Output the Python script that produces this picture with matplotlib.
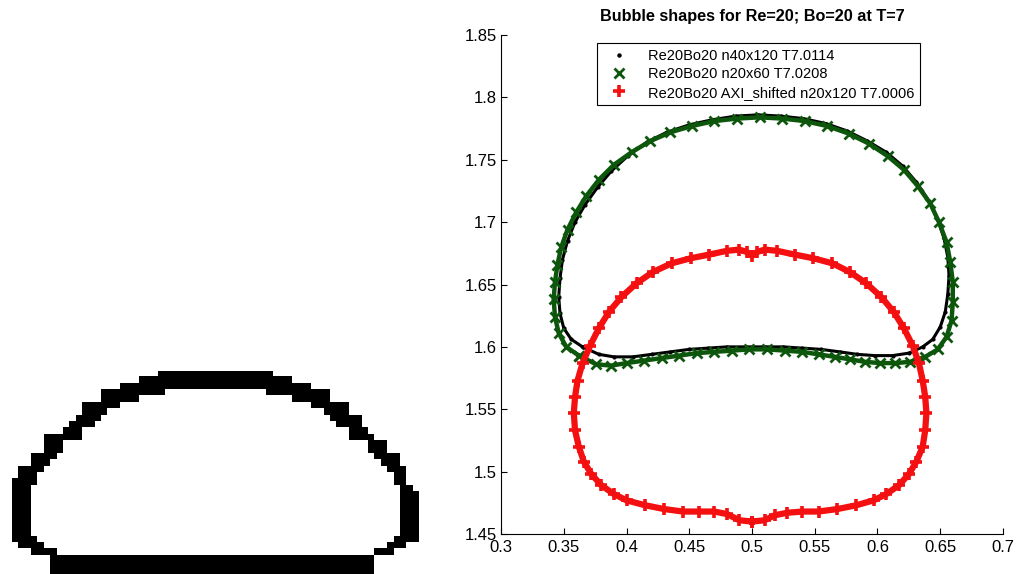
import numpy as np
import matplotlib.pyplot as plt

plt.rcParams['font.family'] = ['Liberation Sans', 'DejaVu Sans']

# left picture: pixelated bubble, one entry per pixel row (top to bottom)
# filled cells are [outer_left, inner_left) and [inner_right, outer_right)
outer_left = [23, 20, 17, 14, 14, 11, 11, 10, 9, 8, 5, 5, 5, 3, 3, 1,
              1, 0, 0, 0, 0, 0, 0, 0, 0, 0, 0, 1, 3, 6, 6, 6]
inner_left = [41, 44, 47, 24, 20, 17, 15, 14, 13, 11, 11, 8, 8, 7, 6, 5,
              4, 4, 3, 3, 3, 3, 3, 3, 3, 3, 4, 5, 7, 57, 57, 57]
inner_right = [41, 44, 47, 40, 44, 47, 49, 50, 51, 53, 53, 56, 56, 57, 58, 59,
               60, 60, 61, 61, 61, 61, 61, 61, 61, 61, 60, 59, 57, 57, 57, 57]
outer_right = [41, 44, 47, 50, 50, 53, 53, 55, 55, 56, 57, 59, 59, 61, 61, 62,
               62, 62, 63, 64, 64, 64, 64, 64, 64, 64, 64, 62, 60, 57, 57, 57]

# right plot: bubble outlines
fine_x = [0.365, 0.356, 0.350, 0.347, 0.346, 0.347, 0.349, 0.353, 0.359, 0.367,
          0.377, 0.388, 0.401, 0.416, 0.432, 0.450, 0.468, 0.487, 0.505, 0.523,
          0.541, 0.559, 0.576, 0.592, 0.607, 0.620, 0.631, 0.641, 0.648, 0.653,
          0.656, 0.657, 0.656, 0.654, 0.650, 0.644, 0.636, 0.625, 0.612, 0.598,
          0.584, 0.570, 0.555, 0.540, 0.525, 0.510, 0.495, 0.480, 0.465, 0.450,
          0.435, 0.420, 0.405, 0.390, 0.378, 0.365]
fine_y = [1.600, 1.606, 1.615, 1.627, 1.640, 1.655, 1.670, 1.685, 1.700, 1.714,
          1.728, 1.741, 1.753, 1.764, 1.772, 1.778, 1.782, 1.785, 1.786, 1.785,
          1.783, 1.779, 1.773, 1.765, 1.756, 1.745, 1.732, 1.717, 1.702, 1.687,
          1.672, 1.657, 1.642, 1.628, 1.616, 1.606, 1.600, 1.595, 1.593, 1.593,
          1.594, 1.596, 1.598, 1.599, 1.600, 1.600, 1.600, 1.600, 1.599, 1.598,
          1.596, 1.594, 1.592, 1.592, 1.594, 1.600]

coarse_x = [0.362, 0.352, 0.346, 0.343, 0.342, 0.343, 0.345, 0.348, 0.353, 0.360,
            0.368, 0.378, 0.390, 0.404, 0.419, 0.435, 0.452, 0.470, 0.488, 0.506,
            0.524, 0.542, 0.560, 0.577, 0.593, 0.608, 0.621, 0.632, 0.642, 0.649,
            0.655, 0.658, 0.660, 0.660, 0.659, 0.655, 0.648, 0.638, 0.626, 0.614,
            0.602, 0.590, 0.578, 0.566, 0.553, 0.540, 0.526, 0.512, 0.498, 0.484,
            0.470, 0.456, 0.442, 0.428, 0.414, 0.400, 0.388, 0.376, 0.362]
coarse_y = [1.593, 1.600, 1.611, 1.624, 1.638, 1.652, 1.666, 1.680, 1.694, 1.708,
            1.721, 1.734, 1.746, 1.756, 1.765, 1.772, 1.777, 1.781, 1.783, 1.784,
            1.783, 1.781, 1.777, 1.771, 1.763, 1.753, 1.742, 1.729, 1.715, 1.700,
            1.684, 1.668, 1.652, 1.636, 1.621, 1.608, 1.598, 1.592, 1.588, 1.587,
            1.587, 1.588, 1.590, 1.592, 1.594, 1.596, 1.597, 1.598, 1.598, 1.597,
            1.596, 1.595, 1.593, 1.591, 1.589, 1.587, 1.585, 1.586, 1.593]

axi_x = [0.500, 0.490, 0.480, 0.470, 0.458, 0.445, 0.430, 0.415, 0.400, 0.390,
         0.380, 0.372, 0.366, 0.362, 0.359, 0.358, 0.359, 0.361, 0.365, 0.371,
         0.378, 0.386, 0.396, 0.408, 0.421, 0.436, 0.451, 0.466, 0.480, 0.490,
         0.496, 0.500, 0.504, 0.510, 0.520, 0.534, 0.549, 0.564, 0.578, 0.591,
         0.603, 0.613, 0.621, 0.628, 0.633, 0.636, 0.638, 0.639, 0.638, 0.636,
         0.631, 0.625, 0.617, 0.607, 0.597, 0.583, 0.568, 0.553, 0.540, 0.528,
         0.518, 0.510, 0.500]
axi_y = [1.460, 1.461, 1.466, 1.468, 1.468, 1.468, 1.470, 1.473, 1.477, 1.482,
         1.489, 1.498, 1.508, 1.520, 1.533, 1.547, 1.560, 1.573, 1.587, 1.601,
         1.615, 1.628, 1.640, 1.651, 1.660, 1.667, 1.671, 1.674, 1.677, 1.678,
         1.676, 1.673, 1.676, 1.678, 1.677, 1.674, 1.671, 1.667, 1.660, 1.651,
         1.640, 1.628, 1.615, 1.601, 1.587, 1.573, 1.560, 1.547, 1.533, 1.520,
         1.508, 1.498, 1.489, 1.482, 1.477, 1.473, 1.470, 1.468, 1.468, 1.467,
         1.465, 1.461, 1.460]

labels = ['Re20Bo20 n40x120 T7.0114',
          'Re20Bo20 n20x60 T7.0208',
          'Re20Bo20 AXI_shifted n20x120 T7.0006']

xticks = [0.3, 0.35, 0.4, 0.45, 0.5, 0.55, 0.6, 0.65, 0.7]
xtick_labels = ['0.3', '0.35', '0.4', '0.45', '0.5', '0.55', '0.6', '0.65', '0.7']
yticks = [1.45, 1.5, 1.55, 1.6, 1.65, 1.7, 1.75, 1.8, 1.85]
ytick_labels = ['1.45', '1.5', '1.55', '1.6', '1.65', '1.7', '1.75', '1.8', '1.85']

green = '#0d570d'
red = '#f41010'

fig = plt.figure(figsize=(10.2, 5.74), dpi=100)

# left: the pixel picture
grid = np.zeros((len(outer_left), 64))
for r in range(len(outer_left)):
    grid[r, outer_left[r]:inner_left[r]] = 1
    grid[r, inner_right[r]:outer_right[r]] = 1

cell = 6.35
axl = fig.add_axes([12 / 1020, 0, 64 * cell / 1020, len(outer_left) * cell / 574])
axl.imshow(grid, cmap='gray_r', vmin=0, vmax=1, interpolation='nearest', aspect='auto')
axl.axis('off')

# right: the comparison plot
ax = fig.add_axes([501 / 1020, 1 - 534 / 574, 502 / 1020, 499 / 574])

ax.plot(fine_x, fine_y, '-', color='k', lw=2.2)
ax.plot(fine_x, fine_y, '.', color='k', ms=4, label=labels[0])
ax.plot(coarse_x, coarse_y, '-', color=green, lw=3.2)
ax.plot(coarse_x, coarse_y, 'x', color=green, ms=6.5, mew=2, label=labels[1])
ax.plot(axi_x, axi_y, '-', color=red, lw=4.5)
ax.plot(axi_x, axi_y, '+', color=red, ms=8.5, mew=2.6, label=labels[2])

ax.set_xlim(0.3, 0.7)
ax.set_ylim(1.45, 1.85)
ax.set_xticks(xticks)
ax.set_xticklabels(xtick_labels)
ax.set_yticks(yticks)
ax.set_yticklabels(ytick_labels)
ax.tick_params(direction='in', length=4, width=0.8, labelsize=12)
ax.tick_params(axis='x', pad=4)
ax.tick_params(axis='y', pad=3)
ax.spines['top'].set_visible(False)
ax.spines['right'].set_visible(False)

ax.set_title('Bubble shapes for Re=20; Bo=20 at T=7', fontsize=11.7,
             fontweight='bold', pad=10)

leg = ax.legend(loc='upper left', bbox_to_anchor=(0.191, 0.984), borderaxespad=0,
                fontsize=10.5, fancybox=False, edgecolor='k', framealpha=1,
                handlelength=2.3, handletextpad=0.8, borderpad=0.4,
                labelspacing=0.3, markerscale=1.1)
leg.get_frame().set_linewidth(0.8)

fig.savefig('out.png', dpi=100)
